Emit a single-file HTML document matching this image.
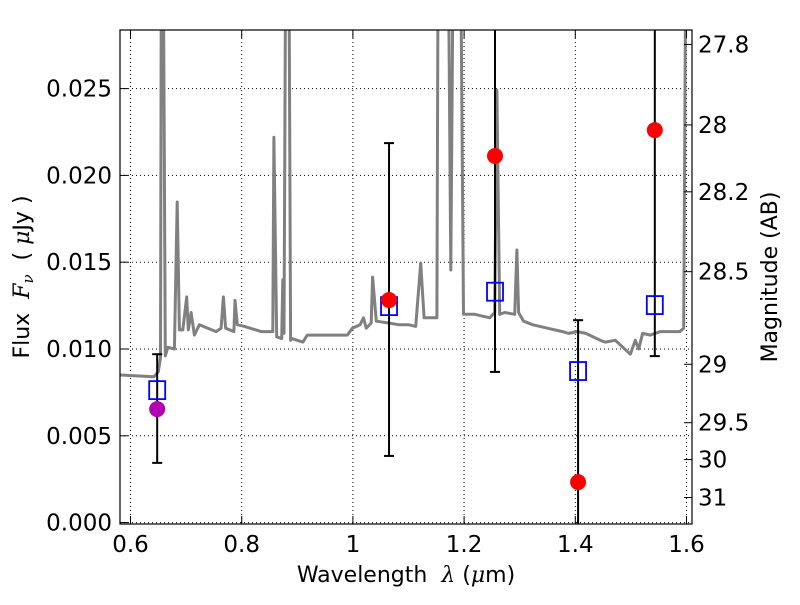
<!DOCTYPE html>
<html><head><meta charset="utf-8"><style>
body{margin:0;background:#fff}
svg text{font-family:"DejaVu Sans","Liberation Sans",sans-serif;fill:#000;white-space:pre}
</style></head><body>
<svg id="chart" width="800" height="600" xmlns="http://www.w3.org/2000/svg">
<rect width="800" height="600" fill="#fff"/>
<defs><clipPath id="clip"><rect x="120" y="30" width="572" height="494"/></clipPath></defs>
<g id="grid"></g>
<g id="plot" clip-path="url(#clip)"></g>
<rect x="120" y="30" width="572" height="494" fill="none" stroke="#000" stroke-width="1.2"/>
<g id="axes"></g>
<text x="406" y="582" font-size="22" text-anchor="middle">Wavelength&#160;&#160;<tspan font-style="italic" font-family="DejaVu Serif,serif">λ</tspan> (<tspan font-style="italic" font-family="DejaVu Serif,serif">μ</tspan>m)</text>
<text transform="translate(29,277) rotate(-90)" font-size="22" text-anchor="middle">Flux&#160;&#160;<tspan font-style="italic" font-family="DejaVu Serif,serif">F<tspan font-size="15" dy="4">ν</tspan></tspan><tspan dy="-4">&#160;&#160;(&#160;</tspan><tspan font-style="italic" font-family="DejaVu Serif,serif">μ</tspan>Jy )</text>
<text transform="translate(777,277) rotate(-90)" font-size="22" text-anchor="middle">Magnitude (AB)</text>
</svg>
<script>
const specWave=[0.581,0.642,0.650,0.654,0.656,0.658,0.6625,0.667,0.679,0.684,0.688,0.694,0.701,0.704,0.709,0.715,0.724,0.739,0.754,0.763,0.767,0.771,0.786,0.788,0.792,0.805,0.835,0.856,0.858,0.863,0.872,0.874,0.876,0.880,0.884,0.888,0.890,0.910,0.918,0.990,0.999,1.013,1.019,1.024,1.033,1.0355,1.042,1.064,1.082,1.100,1.113,1.122,1.128,1.151,1.154,1.160,1.170,1.176,1.182,1.192,1.199,1.219,1.246,1.255,1.259,1.264,1.273,1.291,1.295,1.298,1.307,1.323,1.350,1.377,1.388,1.403,1.419,1.445,1.454,1.472,1.499,1.508,1.514,1.521,1.535,1.553,1.588,1.595,1.600];
const specFlux=[0.0085,0.0084,0.0087,0.0095,0.040,0.040,0.0096,0.0101,0.0100,0.01847,0.0111,0.0111,0.0130,0.0111,0.0121,0.0108,0.0114,0.0112,0.0110,0.0112,0.0130,0.0112,0.0110,0.0128,0.0114,0.0113,0.0110,0.0110,0.0222,0.0107,0.0106,0.0140,0.0109,0.040,0.040,0.0105,0.0106,0.0104,0.0108,0.0108,0.0112,0.0114,0.0118,0.0112,0.0115,0.01414,0.0116,0.0115,0.0114,0.0114,0.0113,0.01495,0.0118,0.0118,0.040,0.040,0.040,0.01455,0.040,0.040,0.0120,0.0120,0.0118,0.0121,0.0249,0.0120,0.0121,0.0120,0.0157,0.0121,0.0116,0.0114,0.0112,0.0110,0.0109,0.0110,0.0109,0.0105,0.0104,0.0105,0.0097,0.0105,0.0100,0.0109,0.0108,0.0110,0.0110,0.0112,0.040];
const bandWave=[0.648,1.065,1.2556,1.405,1.543];
const modelFlux=[0.00763,0.01247,0.0133,0.00873,0.01253];
const obsFlux=[0.00654,0.01282,0.02112,0.00233,0.02261];
const obsColor=["#b000b0","red","red","red","red"];
const errLow=[0.00344,0.00384,0.00868,-0.002,0.00959];
const errHigh=[0.0097,0.02186,0.035,0.01166,0.035];
const xTicks=[0.6,0.8,1.0,1.2,1.4,1.6];
const xTickLabels=["0.6","0.8","1","1.2","1.4","1.6"];
const yTicks=[0,0.005,0.010,0.015,0.020,0.025];
const yTickLabels=["0.000","0.005","0.010","0.015","0.020","0.025"];
const magTicks=[27.8,28,28.2,28.5,29,29.5,30,31];
const magTickLabels=["27.8","28","28.2","28.5","29","29.5","30","31"];

const X=v=>130.5+(v-0.6)*556;
const Y=v=>522.6-v*17360;
const NS="http://www.w3.org/2000/svg";
function mk(tag,attrs,parent){const e=document.createElementNS(NS,tag);for(const k in attrs)e.setAttribute(k,attrs[k]);parent.appendChild(e);return e;}
const grid=document.getElementById('grid'),plot=document.getElementById('plot'),axes=document.getElementById('axes');

xTicks.forEach((t,i)=>{
  const g=mk('line',{x1:X(t),x2:X(t),y1:30,y2:524,stroke:'#000','stroke-width':1,'stroke-dasharray':'1,3'},grid);
  
  
  const tk=mk('line',{x1:X(t),x2:X(t),y1:524,y2:516,stroke:'#000'},axes);
  
  
  const tk2=mk('line',{x1:X(t),x2:X(t),y1:30,y2:38,stroke:'#000'},axes);
  
  
  const l=mk('text',{x:X(t),y:552,'font-size':23,'text-anchor':'middle'},axes);
  l.textContent=xTickLabels[i];
  
  
});
yTicks.forEach((t,i)=>{
  const g=mk('line',{x1:120,x2:692,y1:Y(t),y2:Y(t),stroke:'#000','stroke-width':1,'stroke-dasharray':'1,3'},grid);
  
  
  const tk=mk('line',{x1:120,x2:128,y1:Y(t),y2:Y(t),stroke:'#000'},axes);
  
  
  const l=mk('text',{x:112,y:Y(t)+8,'font-size':23,'text-anchor':'end'},axes);
  l.textContent=yTickLabels[i];
  
  
});
magTicks.forEach((m,i)=>{
  const y=Y(Math.pow(10,(23.9-m)/2.5));
  const tk=mk('line',{x1:692,x2:684,y1:y,y2:y,stroke:'#000'},axes);
  
  
  const l=mk('text',{x:698,y:y+8,'font-size':23},axes);
  l.textContent=magTickLabels[i];
  
  
});
const pts=specWave.map((w,i)=>X(w).toFixed(1)+','+Y(specFlux[i]).toFixed(1)).join(' ');
const sp=mk('polyline',{points:pts,fill:'none',stroke:'#808080','stroke-width':3,'stroke-linejoin':'round'},plot);


bandWave.forEach((w,i)=>{
  const x=X(w);
  const e=mk('line',{x1:x,x2:x,y1:Y(errLow[i]),y2:Y(errHigh[i]),stroke:'#000','stroke-width':2},plot);
  
  
  [errLow[i],errHigh[i]].forEach(v=>{
    const c=mk('line',{x1:x-5,x2:x+5,y1:Y(v),y2:Y(v),stroke:'#000','stroke-width':2},plot);
    
    
  });
  const s=mk('rect',{x:x-8,y:Y(modelFlux[i])-9,width:16,height:18,fill:'none',stroke:'#0000ff','stroke-width':1.8},plot);
  
  
  const o=mk('circle',{cx:x,cy:Y(obsFlux[i]),r:8,fill:obsColor[i]},plot);
  
  
});
</script>
</body></html>
